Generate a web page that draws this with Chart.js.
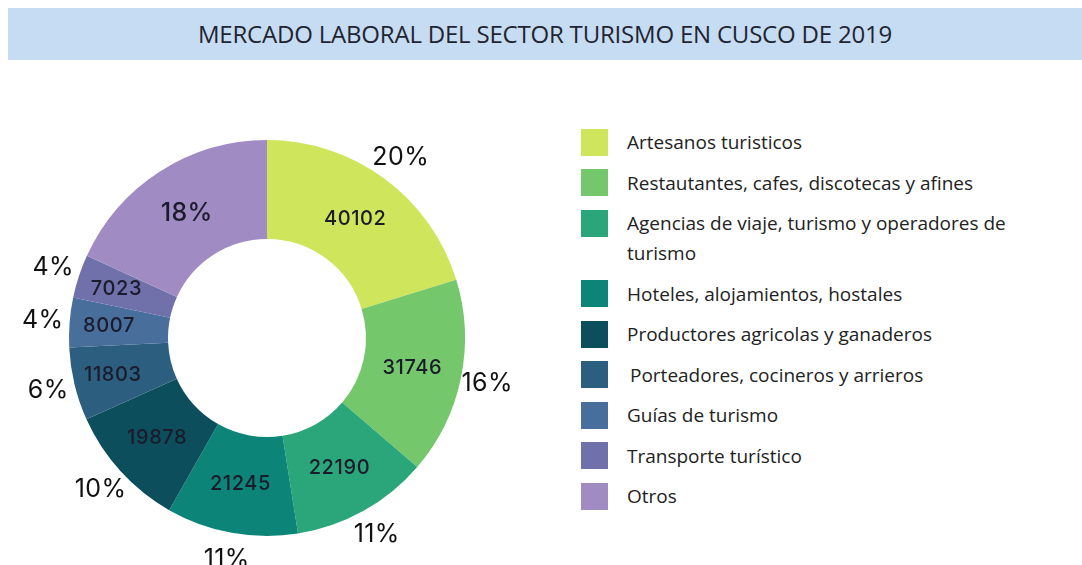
<!DOCTYPE html>
<html>
<head>
<meta charset="utf-8">
<script src="https://cdn.jsdelivr.net/npm/chart.js@4.4.1/dist/chart.umd.min.js"></script>
<style>
  html, body { margin: 0; padding: 0; background: #ffffff; }
  body { width: 1082px; height: 565px; position: relative; overflow: hidden; font-family: "Open Sans", sans-serif; }
  #banner { position: absolute; left: 8px; top: 8px; width: 1074px; height: 52px; background: #c6dcf3; }
  #title { position: absolute; left: 8px; top: 8px; width: 1074px; height: 52px; line-height: 52px; text-align: center; font-size: 24px; color: #1f2430; letter-spacing: -0.2px; }
  #wrap { position: absolute; left: 0; top: 100px; width: 534px; height: 465px; }
  #legend { position: absolute; left: 581px; top: 127px; }
  .item { display: flex; align-items: flex-start; margin-bottom: 10.5px; }
  .sw { width: 27px; height: 27px; margin-top: 1.5px; flex: none; }
  .lt { margin-left: 19px; width: 435px; font-size: 19px; line-height: 30px; color: #222; }
</style>
</head>
<body>
<div id="banner"></div>
<div id="title"></div>
<div id="wrap"><canvas id="c"></canvas></div>
<div id="legend"></div>
<script>
const chartTitle = "MERCADO LABORAL DEL SECTOR TURISMO EN CUSCO DE 2019";
const categories = [
  "Artesanos turisticos",
  "Restautantes, cafes, discotecas y afines",
  "Agencias de viaje, turismo y operadores de turismo",
  "Hoteles, alojamientos, hostales",
  "Productores agricolas y ganaderos",
  "Porteadores, cocineros y arrieros",
  "Guías de turismo",
  "Transporte turístico",
  "Otros"
];
const workers = [40102, 31746, 22190, 21245, 19878, 11803, 8007, 7023, 36000];
const sliceColors = ["#cee55c", "#74c76a", "#2ba67a", "#0d8478", "#0c4e5c", "#2c5f7f", "#486f9c", "#7070aa", "#a08bc3"];
const showCountInside = [true, true, true, true, true, true, true, true, false];

document.getElementById('title').textContent = chartTitle;

const legendEl = document.getElementById('legend');
categories.forEach((name, i) => {
  const it = document.createElement('div'); it.className = 'item';
  const sw = document.createElement('div'); sw.className = 'sw'; sw.style.background = sliceColors[i];
  const lt = document.createElement('div'); lt.className = 'lt'; lt.textContent = name;
  if (i === 5) lt.style.marginLeft = '22px';
  it.appendChild(sw); it.appendChild(lt); legendEl.appendChild(it);
});

const total = workers.reduce((a, b) => a + b, 0);
const pct = v => Math.round(v / total * 100) + '%';

const labelPlugin = {
  id: 'sliceLabels',
  afterDatasetsDraw(chart) {
    const ctx = chart.ctx;
    const meta = chart.getDatasetMeta(0);
    ctx.save();
    ctx.textAlign = 'center';
    ctx.textBaseline = 'middle';
    meta.data.forEach((arc, i) => {
      const p = arc.getProps(['x', 'y', 'startAngle', 'endAngle', 'innerRadius', 'outerRadius'], true);
      const mid = (p.startAngle + p.endAngle) / 2;
      const span = p.endAngle - p.startAngle;
      const rIn = (p.innerRadius + p.outerRadius) / 2 + (span < 0.45 ? 10 : 0);
      const v = workers[i];
      if (showCountInside[i]) {
        ctx.font = '500 20px Inter, sans-serif';
        ctx.letterSpacing = '0.6px';
        ctx.fillStyle = '#1b1b2c';
        ctx.fillText(String(v), p.x + Math.cos(mid) * rIn, p.y + Math.sin(mid) * rIn);
        const rOut = p.outerRadius + 27;
        ctx.font = '400 25px Inter, sans-serif';
        ctx.letterSpacing = '0.4px';
        ctx.fillStyle = '#111111';
        ctx.fillText(pct(v), p.x + Math.cos(mid) * rOut, p.y + Math.sin(mid) * rOut);
      } else {
        ctx.font = '500 25px Inter, sans-serif';
        ctx.letterSpacing = '0.4px';
        ctx.fillStyle = '#1b1b2c';
        ctx.fillText(pct(v), p.x + Math.cos(mid) * rIn, p.y + Math.sin(mid) * rIn);
      }
    });
    ctx.restore();
  }
};

new Chart(document.getElementById('c'), {
  type: 'doughnut',
  data: {
    labels: categories,
    datasets: [{ data: workers, backgroundColor: sliceColors, borderWidth: 0 }]
  },
  options: {
    responsive: true,
    maintainAspectRatio: false,
    animation: false,
    cutout: '50%',
    layout: { padding: { left: 69, right: 69, top: 40, bottom: 29 } },
    plugins: { legend: { display: false }, tooltip: { enabled: false }, title: { display: false } }
  },
  plugins: [labelPlugin]
});
</script>
</body>
</html>
